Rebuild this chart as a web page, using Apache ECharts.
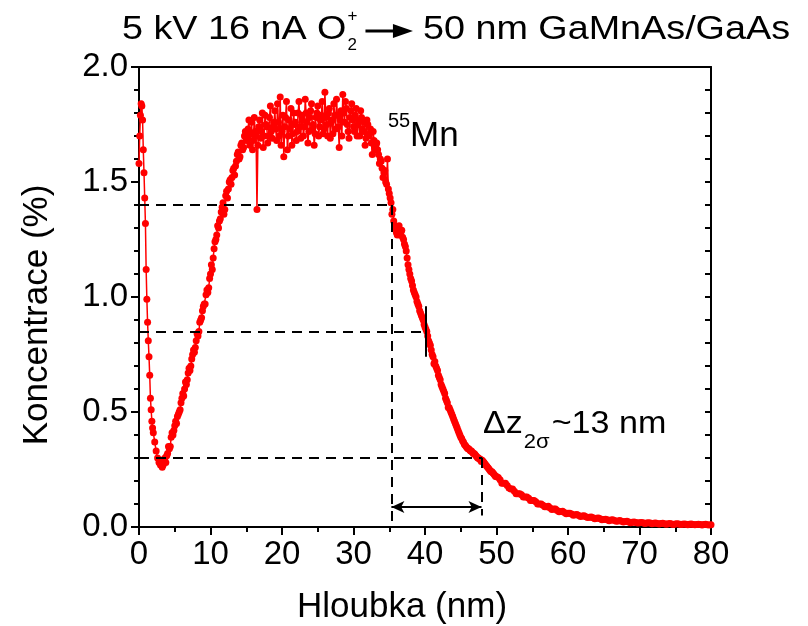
<!DOCTYPE html>
<html><head><meta charset="utf-8">
<script src="https://cdn.jsdelivr.net/npm/echarts@6/dist/echarts.min.js"></script>
<style>html,body{margin:0;padding:0;background:#fff}#c{width:808px;height:626px}</style>
</head><body><div id="c"></div>
<script>
// ---- data (depth in nm, concentration in %) ----
const depthA = [0,0.1,0.2,0.3,0.4,0.5,0.6,0.7,0.8,0.9,1.0,1.1,1.2,1.3,1.4,1.5,1.6,1.7,1.8,1.9,2.0,2.2,2.4,2.6,2.8,3.0];
const concA  = [1.58,1.70,1.79,1.84,1.83,1.77,1.64,1.54,1.43,1.32,1.12,0.99,0.89,0.81,0.74,0.66,0.56,0.51,0.46,0.43,0.41,0.37,0.33,0.30,0.28,0.27];
const depthB = [3.25,3.5,3.75,4,4.25,4.5,4.75,5,5.25,5.5,5.75,6,6.25,6.5,6.75,7,7.25,7.5,7.75,8,8.25,8.5,8.75,9,9.25,9.5,9.75,10,10.25,10.5,10.75,11,11.25,11.5,11.75,12,12.25,12.5,12.75,13,13.25,13.5,13.75,14,14.25,14.5,14.75,15];
const concB  = [0.26,0.29,0.28,0.32,0.34,0.39,0.40,0.44,0.45,0.49,0.51,0.56,0.57,0.63,0.64,0.69,0.70,0.75,0.76,0.81,0.83,0.89,0.91,0.96,0.97,1.03,1.04,1.10,1.12,1.21,1.25,1.31,1.33,1.37,1.41,1.38,1.46,1.47,1.51,1.52,1.56,1.57,1.62,1.60,1.66,1.64,1.70,1.68];
const depthB2 = [3.125,3.375,3.625,3.875,4.125,4.375,4.625,4.875,5.125,5.375,5.625,5.875,6.125,6.375,6.625,6.875,7.125,7.375,7.625,7.875,8.125,8.375,8.625,8.875,9.125,9.375,9.625,9.875,10.125,10.375,10.625,10.875,11.125,11.375,11.625,11.875,12.125,12.375,12.625,12.875,13.125,13.375,13.625,13.875,14.125,14.375,14.625,14.875];
const concB2  = [0.29,0.27,0.30,0.31,0.35,0.35,0.41,0.42,0.46,0.48,0.50,0.54,0.58,0.60,0.62,0.67,0.68,0.73,0.77,0.78,0.84,0.85,0.90,0.94,0.97,1.01,1.02,1.08,1.14,1.17,1.24,1.27,1.30,1.34,1.39,1.36,1.44,1.43,1.50,1.49,1.55,1.53,1.59,1.63,1.61,1.67,1.65,1.72];
const depthC = [15.25,15.5,15.75,16,16.25,16.5,16.75,17,17.25,17.5,17.75,18,18.25,18.5,18.75,19,19.25,19.5,19.75,20,20.25,20.5,20.75,21,21.25,21.5,21.75,22,22.25,22.5,22.75,23,23.25,23.5,23.75,24,24.25,24.5,24.75,25,25.25,25.5,25.75,26,26.25,26.5,26.75,27,27.25,27.5,27.75,28,28.25,28.5,28.75,29,29.25,29.5,29.75,30,30.25,30.5,30.75,31,31.25,31.5,31.75,32,32.25,32.5,32.75,33];
const concC  = [1.73,1.66,1.76,1.68,1.72,1.38,1.74,1.69,1.80,1.70,1.75,1.67,1.78,1.72,1.74,1.81,1.68,1.76,1.87,1.72,1.61,1.78,1.64,1.77,1.82,1.71,1.75,1.68,1.80,1.74,1.79,1.70,1.86,1.76,1.72,1.81,1.73,1.66,1.78,1.83,1.74,1.79,1.71,1.89,1.75,1.80,1.69,1.77,1.84,1.73,1.79,1.65,1.81,1.88,1.76,1.82,1.72,1.78,1.84,1.74,1.79,1.70,1.77,1.81,1.73,1.76,1.69,1.75,1.71,1.67,1.72,1.64];
const depthC2 = [15.125,15.375,15.625,15.875,16.125,16.375,16.625,16.875,17.125,17.375,17.625,17.875,18.125,18.375,18.625,18.875,19.125,19.375,19.625,19.875,20.125,20.375,20.625,20.875,21.125,21.375,21.625,21.875,22.125,22.375,22.625,22.875,23.125,23.375,23.625,23.875,24.125,24.375,24.625,24.875,25.125,25.375,25.625,25.875,26.125,26.375,26.625,26.875,27.125,27.375,27.625,27.875,28.125,28.375,28.625,28.875,29.125,29.375,29.625,29.875,30.125,30.375,30.625,30.875,31.125,31.375,31.625,31.875,32.125,32.375,32.625,32.875];
const concC2  = [1.70,1.77,1.71,1.64,1.78,1.70,1.66,1.77,1.72,1.65,1.79,1.74,1.70,1.83,1.69,1.76,1.73,1.84,1.70,1.66,1.79,1.74,1.85,1.70,1.73,1.66,1.80,1.76,1.72,1.85,1.69,1.77,1.74,1.80,1.67,1.78,1.84,1.75,1.71,1.80,1.70,1.77,1.85,1.73,1.78,1.70,1.82,1.76,1.71,1.79,1.86,1.74,1.77,1.70,1.80,1.85,1.75,1.69,1.81,1.77,1.72,1.82,1.75,1.70,1.78,1.72,1.66,1.77,1.70,1.73,1.62,1.68];
const depthD = [33.25,33.5,33.75,34,34.25,34.5,34.75,35,35.25,35.5,35.75,36,36.25,36.5,36.75,37,37.25,37.5,37.75,38,38.25,38.5,38.75,39,39.25,39.5,39.75,40,40.25,40.5,40.75,41,41.25,41.5,41.75,42,42.25,42.5,42.75,43,43.25,43.5,43.75,44,44.25,44.5,44.75,45,45.25,45.5,45.75,46,46.25,46.5,46.75,47,47.25,47.5,47.75,48,48.25,48.5,48.75,49,49.25,49.5,49.75,50];
const concD  = [1.67,1.62,1.60,1.56,1.54,1.50,1.60,1.45,1.41,1.38,1.31,1.28,1.30,1.27,1.29,1.25,1.22,1.17,1.12,1.08,1.05,1.02,1.00,0.97,0.94,0.92,0.90,0.87,0.85,0.81,0.79,0.75,0.71,0.70,0.68,0.65,0.62,0.60,0.58,0.55,0.52,0.51,0.49,0.47,0.45,0.43,0.41,0.39,0.375,0.36,0.35,0.34,0.335,0.33,0.32,0.315,0.305,0.30,0.295,0.29,0.28,0.27,0.26,0.25,0.24,0.235,0.225,0.22];
const depthD2 = [33.125,33.375,33.625,33.875,34.125,34.375,34.625,34.875,35.125,35.375,35.625,35.875,36.125,36.375,36.625,36.875,37.125,37.375,37.625,37.875,38.125,38.375,38.625,38.875,39.125,39.375,39.625,39.875,40.125,40.375,40.625,40.875,41.125,41.375,41.625,41.875,42.125,42.375,42.625,42.875,43.125,43.375,43.625,43.875,44.125,44.375,44.625,44.875,45.125,45.375,45.625,45.875,46.125,46.375,46.625,46.875,47.125,47.375,47.625,47.875,48.125,48.375,48.625,48.875,49.125,49.375,49.625,49.875];
const concD2  = [1.66,1.64,1.58,1.59,1.52,1.55,1.49,1.47,1.43,1.36,1.33,1.30,1.27,1.31,1.28,1.26,1.23,1.20,1.14,1.10,1.07,1.03,1.01,0.98,0.96,0.93,0.91,0.88,0.86,0.83,0.80,0.77,0.74,0.72,0.69,0.66,0.64,0.61,0.59,0.56,0.54,0.52,0.50,0.48,0.46,0.44,0.42,0.40,0.385,0.37,0.355,0.345,0.34,0.33,0.325,0.32,0.31,0.30,0.295,0.285,0.285,0.275,0.265,0.255,0.245,0.24,0.23,0.22];
const depthE = [50.5,51,51.5,52,52.5,53,53.5,54,54.5,55,55.5,56,56.5,57,57.5,58,58.5,59,59.5,60,60.5,61,61.5,62,62.5,63,63.5,64,64.5,65,65.5,66,66.5,67,67.5,68,68.5,69,69.5,70,70.5,71,71.5,72,72.5,73,73.5,74,74.5,75,75.5,76,76.5,77,77.5,78,78.5,79,79.5,80];
const concE  = [0.205,0.19,0.18,0.165,0.155,0.145,0.14,0.13,0.125,0.115,0.11,0.10,0.095,0.088,0.083,0.078,0.072,0.067,0.063,0.060,0.056,0.053,0.050,0.048,0.045,0.042,0.040,0.038,0.036,0.033,0.031,0.030,0.028,0.026,0.025,0.024,0.022,0.021,0.020,0.019,0.018,0.017,0.017,0.016,0.015,0.015,0.014,0.014,0.013,0.013,0.013,0.012,0.012,0.012,0.011,0.011,0.011,0.011,0.010,0.010];
const depthE2 = [50.25,50.75,51.25,51.75,52.25,52.75,53.25,53.75,54.25,54.75,55.25,55.75,56.25,56.75,57.25,57.75,58.25,58.75,59.25,59.75,60.25,60.75,61.25,61.75,62.25,62.75,63.25,63.75,64.25,64.75,65.25,65.75,66.25,66.75,67.25,67.75,68.25,68.75,69.25,69.75,70.25,70.75,71.25,71.75,72.25,72.75,73.25,73.75,74.25,74.75,75.25,75.75,76.25,76.75,77.25,77.75,78.25,78.75,79.25,79.75];
const concE2  = [0.215,0.19,0.19,0.17,0.165,0.145,0.145,0.13,0.13,0.115,0.115,0.10,0.10,0.088,0.09,0.076,0.078,0.066,0.068,0.058,0.060,0.051,0.054,0.046,0.049,0.041,0.044,0.036,0.039,0.032,0.034,0.027,0.031,0.025,0.028,0.022,0.025,0.019,0.022,0.017,0.020,0.015,0.019,0.014,0.017,0.013,0.016,0.012,0.015,0.011,0.014,0.011,0.013,0.010,0.013,0.010,0.012,0.009,0.012,0.009];

// guide lines [x1, y1, x2, y2]
const dashedGuides = [[0,1.4,35.3,1.4],[35.3,1.4,35.3,0],[0,0.85,40.1,0.85],[0,0.3,48,0.3],[48,0.3,48,0.05]];
const solidGuides  = [[40.1,0.74,40.1,0.96]];
const arrowGuide   = [35.3,0.087,47.9,0.087];

const xTickValues = [0,10,20,30,40,50,60,70,80];
const yTickLabels = ['0.0','0.5','1.0','1.5','2.0'];

const depth = [].concat(depthA, depthB, depthB2, depthC, depthC2, depthD, depthD2, depthE, depthE2);
const conc  = [].concat(concA, concB, concB2, concC, concC2, concD, concD2, concE, concE2);
const points = depth.map((d, i) => [d, conc[i]]).sort((a, b) => a[0] - b[0]);

const FF = '"Liberation Sans", Arial, sans-serif';
const toLine = g => [{coord:[g[0],g[1]]},{coord:[g[2],g[3]]}];

function tw(text, size) {
  const c = document.createElement('canvas').getContext('2d');
  c.font = size + 'px ' + FF;
  return c.measureText(text).width;
}

const chart = echarts.init(document.getElementById('c'), null, {renderer:'canvas'});

const t1 = '5 kV 16 nA O', t2 = '50 nm GaMnAs/GaAs';
const TS = 34, TSX = 1.11;
const t1x = 122, t1w = tw(t1, TS) * TSX;
const t2w = tw(t2, TS) * TSX;
const t2x = 790 - t2w;
const supX = t1x + t1w + 1;
const arrowStart = supX + 18, arrowEnd = t2x - 10;

const dzS = 31, DZX = 1.1;
const dzX = 483, dzW = tw('\u0394z', dzS) * DZX;
const subW = tw('2\u03c3', 20) * DZX;

chart.setOption({
  animation: false,
  backgroundColor: '#fff',
  grid: {left: 139, right: 97, top: 67, bottom: 99, show: false},
  xAxis: [{
    type: 'value', min: 0, max: 80, interval: 10, position: 'bottom',
    axisLine: {show: true, onZero: false, lineStyle: {color: '#000', width: 2}},
    axisTick: {show: true, inside: false, length: 8, lineStyle: {color: '#000', width: 2}},
    minorTick: {show: true, splitNumber: 2, length: 5, lineStyle: {color: '#000', width: 2}},
    axisLabel: {color: '#000', fontSize: 33, fontFamily: FF, margin: 11,
      formatter: v => xTickValues.indexOf(v) >= 0 ? String(v) : ''},
    splitLine: {show: false}
  }, {
    type: 'value', min: 0, max: 80, position: 'top',
    axisLine: {show: true, onZero: false, lineStyle: {color: '#000', width: 2}},
    axisTick: {show: false}, axisLabel: {show: false}, splitLine: {show: false}
  }],
  yAxis: [{
    type: 'value', min: 0, max: 2, interval: 0.5, position: 'left',
    axisLine: {show: true, onZero: false, lineStyle: {color: '#000', width: 2}},
    axisTick: {show: true, inside: false, length: 8, lineStyle: {color: '#000', width: 2}},
    minorTick: {show: true, splitNumber: 5, length: 5, lineStyle: {color: '#000', width: 2}},
    axisLabel: {color: '#000', fontSize: 33, fontFamily: FF, margin: 11,
      formatter: v => yTickLabels[Math.round(v / 0.5)]},
    splitLine: {show: false}
  }, {
    type: 'value', min: 0, max: 2, interval: 0.1, position: 'right',
    axisLine: {show: true, onZero: false, lineStyle: {color: '#000', width: 2}},
    axisTick: {show: true, inside: true, length: 6, lineStyle: {color: '#000', width: 2}},
    axisLabel: {show: false}, splitLine: {show: false}
  }],
  series: [{
    type: 'line', data: points, xAxisIndex: 0, yAxisIndex: 0,
    symbol: 'circle', symbolSize: 7, showAllSymbol: true,
    itemStyle: {color: '#ff0000'},
    lineStyle: {color: '#ff0000', width: 1.5},
    z: 2
  }, {
    type: 'line', data: [], xAxisIndex: 0, yAxisIndex: 0, z: 5,
    markLine: {silent: true, symbol: 'none', label: {show: false}, animation: false,
      lineStyle: {color: '#000', width: 2, type: [10, 7]},
      data: dashedGuides.map(toLine)}
  }, {
    type: 'line', data: [], xAxisIndex: 0, yAxisIndex: 0, z: 5,
    markLine: {silent: true, symbol: 'none', label: {show: false}, animation: false,
      lineStyle: {color: '#000', width: 2, type: 'solid'},
      data: solidGuides.map(toLine)}
  }, {
    type: 'line', data: [], xAxisIndex: 0, yAxisIndex: 0, z: 5,
    markLine: {silent: true, symbol: ['arrow', 'arrow'], symbolSize: [9, 13], label: {show: false}, animation: false,
      lineStyle: {color: '#000', width: 2, type: 'solid'}, itemStyle: {color: '#000'},
      data: [toLine(arrowGuide)]}
  }],
  graphic: [
    {type: 'text', x: t1x, y: 30, scaleX: TSX, style: {text: t1, fontSize: TS, fontFamily: FF, fill: '#000', align: 'left', verticalAlign: 'middle'}},
    {type: 'text', x: supX, y: 16, style: {text: '+', fontSize: 17, fontFamily: FF, fill: '#000', align: 'left', verticalAlign: 'middle'}},
    {type: 'text', x: supX, y: 45, style: {text: '2', fontSize: 17, fontFamily: FF, fill: '#000', align: 'left', verticalAlign: 'middle'}},
    {type: 'line', shape: {x1: arrowStart, y1: 31, x2: arrowEnd - 16, y2: 31}, style: {stroke: '#000', lineWidth: 3}},
    {type: 'polygon', shape: {points: [[arrowEnd - 20, 24], [arrowEnd, 31], [arrowEnd - 20, 38]]}, style: {fill: '#000'}},
    {type: 'text', x: t2x, y: 30, scaleX: TSX, style: {text: t2, fontSize: TS, fontFamily: FF, fill: '#000', align: 'left', verticalAlign: 'middle'}},
    {type: 'text', x: 388, y: 121, style: {text: '55', fontSize: 20, fontFamily: FF, fill: '#000', align: 'left', verticalAlign: 'middle'}},
    {type: 'text', x: 410, y: 136, style: {text: 'Mn', fontSize: 35, fontFamily: FF, fill: '#000', align: 'left', verticalAlign: 'middle'}},
    {type: 'text', x: dzX, y: 424, scaleX: DZX, style: {text: '\u0394z', fontSize: dzS, fontFamily: FF, fill: '#000', align: 'left', verticalAlign: 'middle'}},
    {type: 'text', x: dzX + dzW + 1, y: 442, scaleX: DZX, style: {text: '2\u03c3', fontSize: 20, fontFamily: FF, fill: '#000', align: 'left', verticalAlign: 'middle'}},
    {type: 'text', x: dzX + dzW + subW + 3, y: 424, scaleX: DZX, style: {text: '~13 nm', fontSize: dzS, fontFamily: FF, fill: '#000', align: 'left', verticalAlign: 'middle'}},
    {type: 'text', x: 402, y: 607, style: {text: 'Hloubka (nm)', fontSize: 35, fontFamily: FF, fill: '#000', align: 'center', verticalAlign: 'middle'}},
    {type: 'text', x: 37, y: 315, rotation: Math.PI / 2, style: {text: 'Koncentrace (%)', fontSize: 35, fontFamily: FF, fill: '#000', align: 'center', verticalAlign: 'middle'}}
  ]
});
</script>
</body></html>
